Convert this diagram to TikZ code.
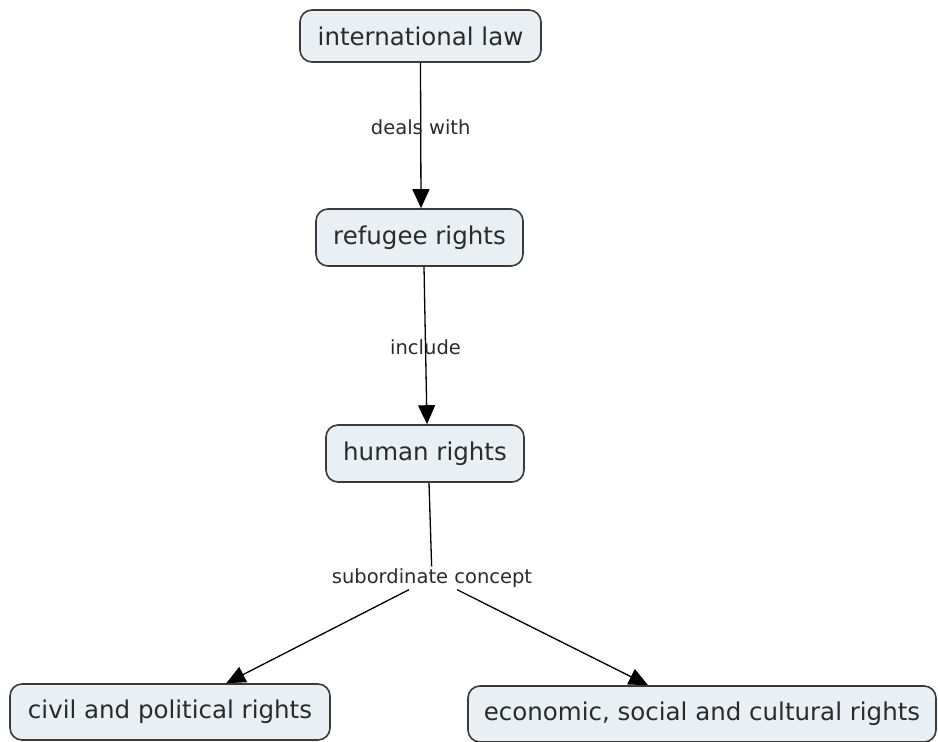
\documentclass[tikz,border=0pt]{standalone}
\usepackage{fontspec}
\setmainfont{DejaVu Sans}
\usetikzlibrary{arrows.meta,calc}
\definecolor{conceptfill}{HTML}{E9EFF2}
\definecolor{conceptline}{HTML}{3A3A3A}
\definecolor{textgrey}{HTML}{2A2A2A}
\tikzset{
  concept/.style={draw=conceptline, line width=1.6pt, fill=conceptfill,
    rounded corners=12pt, inner sep=0pt, text=textgrey,
    font=\fontsize{24.5}{28}\selectfont},
  linkword/.style={inner sep=2pt, text=textgrey,
    font=\fontsize{19.5}{23}\selectfont},
  link/.style={line width=1.3pt, draw=black},
  arrowlink/.style={link, -{Triangle[length=19pt,width=17pt]}}
}
\begin{document}
\begin{tikzpicture}[x=1pt,y=-1pt]
\useasboundingbox (0,0) rectangle (938,742);

% concepts
\node[concept, minimum width=241pt, minimum height=52pt] (intl) at (420.5,36) {international law};
\node[concept, minimum width=207pt, minimum height=57pt] (refugee) at (419.5,237.5) {refugee rights};
\node[concept, minimum width=198pt, minimum height=57pt] (human) at (425,453.5) {human rights};
\node[concept, minimum width=320pt, minimum height=56pt] (civil) at (170,712) {civil and political rights};
\node[concept, minimum width=468pt, minimum height=56pt] (econ) at (702,714) {economic, social and cultural rights};

% linking phrase that cuts its connector
\node[linkword] (sub) at (432,578) {subordinate concept};

% connectors; the first two run straight through their linking phrases
\draw[arrowlink] (intl.south) -- node[linkword, pos=0.44] (deals) {deals with}
  ([xshift=1.5pt]refugee.north);
\draw[arrowlink] ([xshift=4.5pt]refugee.south) -- node[linkword, pos=0.51] (include) {include}
  ([xshift=2pt]human.north);
\draw[link] ([xshift=4pt]human.south) -- (sub);
\draw[arrowlink] ([xshift=-23pt]sub.south) -- ($(civil.north west)!0.675!(civil.north east)$);
\draw[arrowlink] ([xshift=25pt]sub.south) -- ($(econ.north west)!0.385!(econ.north east)$);
\end{tikzpicture}
\end{document}
